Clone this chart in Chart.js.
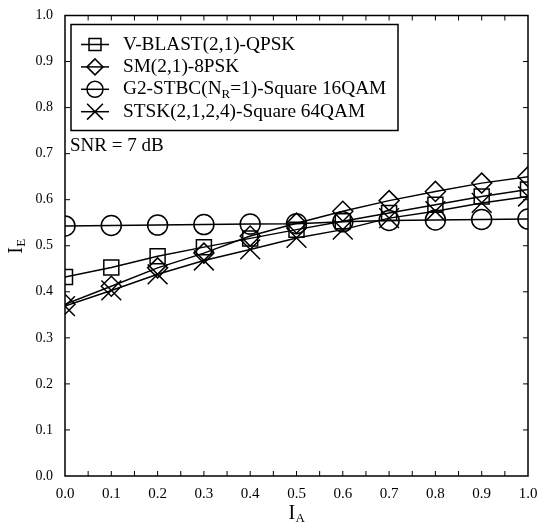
<!DOCTYPE html>
<html>
<head>
<meta charset="utf-8">
<script src="https://cdn.jsdelivr.net/npm/chart.js@4.4.0/dist/chart.umd.min.js"></script>
<style>
  html, body { margin: 0; padding: 0; background: #fff; }
  canvas { display: block; }
</style>
</head>
<body>
<canvas id="exitChart" width="538" height="525"></canvas>
<script>
// I_A values on the x axis
const iaValues = [0.0, 0.1, 0.2, 0.3, 0.4, 0.5, 0.6, 0.7, 0.8, 0.9, 1.0];

// I_E curves
const vblastQpsk = [0.432, 0.453, 0.477, 0.497, 0.516, 0.535, 0.553, 0.571, 0.589, 0.607, 0.622];
const sm8psk     = [0.373, 0.412, 0.452, 0.484, 0.521, 0.549, 0.575, 0.598, 0.618, 0.636, 0.650];
const g2stbc     = [0.543, 0.544, 0.545, 0.546, 0.547, 0.548, 0.552, 0.555, 0.556, 0.557, 0.558];
const stsk64qam  = [0.369, 0.403, 0.438, 0.468, 0.492, 0.517, 0.535, 0.560, 0.575, 0.593, 0.607];

const seriesNames = [
    ['V-BLAST(2,1)-QPSK'],
    ['SM(2,1)-8PSK'],
    ['G2-STBC(N', 'R', '=1)-Square 16QAM'],
    ['STSK(2,1,2,4)-Square 64QAM']
];
const pointStyles = ['rect', 'rectRot', 'circle', 'crossRot'];
const pointSizes = [10.6, 10, 10, 14];

const FONT = '"Liberation Serif", "Times New Roman", serif';

function toPoints(arr) {
    return arr.map((v, i) => ({ x: iaValues[i], y: v }));
}

const allSeries = [vblastQpsk, sm8psk, g2stbc, stsk64qam];
const datasets = allSeries.map((arr, i) => ({
    label: seriesNames[i].join(''),
    data: toPoints(arr),
    borderColor: '#000',
    borderWidth: 1.5,
    backgroundColor: 'rgba(0,0,0,0)',
    pointStyle: pointStyles[i],
    pointRadius: pointSizes[i],
    pointBorderColor: '#000',
    pointBorderWidth: 1.5,
    pointBackgroundColor: 'rgba(0,0,0,0)',
    tension: 0,
    fill: false
}));

// frame, inward ticks, legend, annotations, axis titles
const decorPlugin = {
    id: 'decor',
    afterDraw(chart) {
        const ctx = chart.ctx;
        const a = chart.chartArea;
        const xs = chart.scales.x;
        const ys = chart.scales.y;
        ctx.save();
        ctx.strokeStyle = '#000';
        ctx.lineWidth = 1.5;
        ctx.strokeRect(a.left, a.top, a.right - a.left, a.bottom - a.top);

        // ticks
        ctx.lineWidth = 1;
        ctx.beginPath();
        for (let k = 1; k < 20; k++) {
            const px = xs.getPixelForValue(k * 0.05);
            ctx.moveTo(px, a.bottom); ctx.lineTo(px, a.bottom - 5);
            ctx.moveTo(px, a.top); ctx.lineTo(px, a.top + 5);
        }
        for (let k = 1; k < 10; k++) {
            const py = ys.getPixelForValue(k * 0.1);
            ctx.moveTo(a.left, py); ctx.lineTo(a.left + 5, py);
            ctx.moveTo(a.right, py); ctx.lineTo(a.right - 5, py);
        }
        ctx.stroke();

        // legend
        const lx = a.left + 6, ly = a.top + 9, lw = 327, lh = 106;
        ctx.lineWidth = 1.5;
        ctx.strokeRect(lx, ly, lw, lh);
        ctx.textBaseline = 'middle';
        seriesNames.forEach((parts, i) => {
            const cy = ly + 20 + i * 22.4;
            ctx.lineWidth = 1.5;
            ctx.beginPath();
            ctx.moveTo(lx + 10, cy); ctx.lineTo(lx + 38, cy);
            ctx.stroke();
            ctx.fillStyle = 'rgba(0,0,0,0)';
            Chart.helpers.drawPoint(ctx, {
                pointStyle: pointStyles[i], radius: pointSizes[i] * 0.8, borderWidth: 1.5
            }, lx + 24, cy);
            ctx.fillStyle = '#000';
            let tx = lx + 52;
            parts.forEach((p, j) => {
                if (j === 1) {
                    ctx.font = '13px ' + FONT;
                    ctx.fillText(p, tx, cy + 5);
                    tx += ctx.measureText(p).width;
                } else {
                    ctx.font = '19.3px ' + FONT;
                    ctx.fillText(p, tx, cy);
                    tx += ctx.measureText(p).width;
                }
            });
        });

        // SNR note
        ctx.font = '19px ' + FONT;
        ctx.fillText('SNR = 7 dB', a.left + 5, ys.getPixelForValue(0.716));

        // x axis title I_A
        const cx = (a.left + a.right) / 2;
        ctx.font = '20px ' + FONT;
        ctx.textAlign = 'left';
        ctx.fillText('I', cx - 8, 514);
        ctx.font = '13px ' + FONT;
        ctx.fillText('A', cx - 1, 519);

        // y axis title I_E
        ctx.translate(17, (a.top + a.bottom) / 2);
        ctx.rotate(-Math.PI / 2);
        ctx.font = '20px ' + FONT;
        ctx.fillText('I', -8, 0);
        ctx.font = '13px ' + FONT;
        ctx.fillText('E', -1, 5);
        ctx.restore();
    }
};

new Chart(document.getElementById('exitChart'), {
    type: 'line',
    data: { datasets: datasets },
    options: {
        responsive: false,
        animation: false,
        layout: { padding: { top: 14, right: 10, left: 0, bottom: 0 } },
        plugins: {
            legend: { display: false },
            tooltip: { enabled: false }
        },
        scales: {
            x: {
                type: 'linear',
                min: 0, max: 1,
                grid: { display: false, drawTicks: false },
                border: { display: false },
                ticks: {
                    stepSize: 0.1,
                    padding: 9,
                    color: '#000',
                    font: { family: FONT, size: 15 },
                    maxRotation: 0,
                    callback: v => v.toFixed(1)
                },
                afterFit: s => { s.height = 49; s.paddingLeft = 0; s.paddingRight = 0; }
            },
            y: {
                type: 'linear',
                min: 0, max: 1,
                grid: { display: false, drawTicks: false },
                border: { display: false },
                ticks: {
                    stepSize: 0.1,
                    padding: 12,
                    color: '#000',
                    font: { family: FONT, size: 14 },
                    callback: v => v.toFixed(1)
                },
                afterFit: s => { s.width = 65; s.paddingTop = 0; s.paddingBottom = 0; }
            }
        }
    },
    plugins: [decorPlugin, {
        id: 'areaFix',
        afterLayout(chart) {
            // the x labels keep asking for room on the right; pin the plot edge
            const a = chart.chartArea;
            const want = chart.width - 10;
            if (a.right !== want) {
                a.right = want;
                a.width = a.right - a.left;
                const xs = chart.scales.x;
                xs.right = want;
                xs.width = xs.right - xs.left;
                xs.configure();
                chart.scales.y.configure();
            }
        }
    }]
});
</script>
</body>
</html>
